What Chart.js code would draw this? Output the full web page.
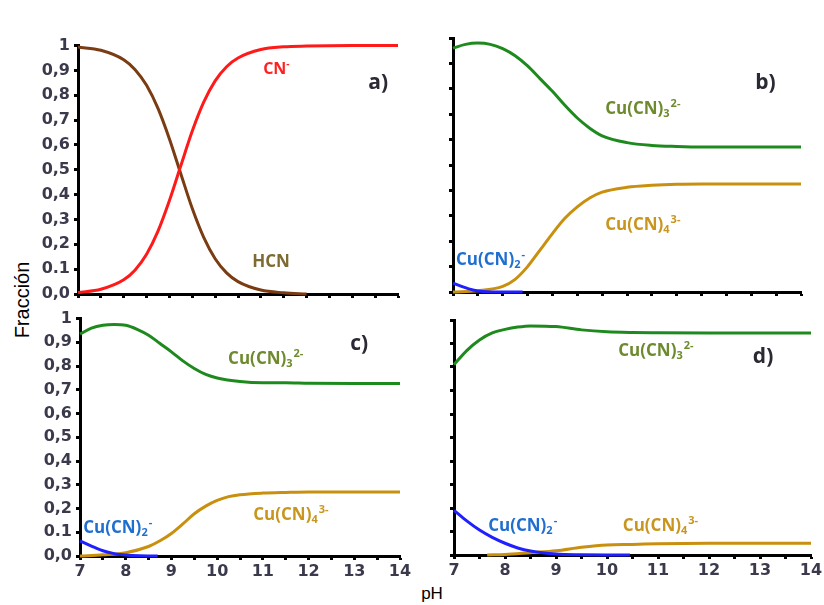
<!DOCTYPE html>
<html>
<head>
<meta charset="utf-8">
<script src="https://cdn.jsdelivr.net/npm/chart.js@4.4.0/dist/chart.umd.min.js"></script>
<style>
  body { margin: 0; background: #fff; width: 824px; height: 605px; position: relative; overflow: hidden; font-family: "Liberation Sans", Arial, sans-serif; }
  .panel { position: absolute; }
  #ylab { position: absolute; left: 22px; top: 300px; transform: translate(-50%, -50%) rotate(-90deg); font-size: 20px; color: #000; white-space: nowrap; }
  #xlab { position: absolute; left: 432px; top: 594px; transform: translate(-50%, -50%); font-size: 17px; color: #000; }
</style>
</head>
<body>
<div id="ylab">Fracción</div>
<div id="xlab">pH</div>
<canvas id="ga" class="panel"></canvas>
<canvas id="gb" class="panel"></canvas>
<canvas id="gc" class="panel"></canvas>
<canvas id="gd" class="panel"></canvas>
<script>
// ---- datos ----
const yTickLabels = ['0,0', '0.1', '0,2', '0,3', '0,4', '0,5', '0,6', '0,7', '0,8', '0,9', '1'];
const xTickLabels = ['7', '8', '9', '10', '11', '12', '13', '14'];

// a) HCN / CN-
const phA_CN = [7, 7.5, 8, 8.25, 8.5, 8.75, 9, 9.25, 9.5, 9.75, 10, 10.25, 10.5, 11, 11.5, 12, 13, 14];
const fracA_CN = [0.006, 0.019, 0.057, 0.097, 0.16, 0.253, 0.376, 0.517, 0.656, 0.772, 0.858, 0.915, 0.95, 0.984, 0.995, 0.998, 1.0, 1.0];
const phA_HCN = [7, 7.5, 8, 8.25, 8.5, 8.75, 9, 9.25, 9.5, 9.75, 10, 10.25, 10.5, 11, 11.5, 12];
const fracA_HCN = [0.994, 0.981, 0.943, 0.903, 0.84, 0.747, 0.624, 0.483, 0.344, 0.228, 0.142, 0.085, 0.05, 0.016, 0.005, 0.0];

// b)
const phB_3 = [7, 7.25, 7.5, 7.75, 8, 8.25, 8.5, 8.75, 9, 9.25, 9.5, 9.75, 10, 10.5, 11, 11.5, 12, 14];
const fracB_3 = [0.96, 0.975, 0.98, 0.975, 0.958, 0.93, 0.89, 0.84, 0.79, 0.735, 0.685, 0.645, 0.615, 0.588, 0.577, 0.573, 0.571, 0.571];
const phB_4 = [7, 7.5, 8, 8.25, 8.5, 8.75, 9, 9.25, 9.5, 9.75, 10, 10.5, 11, 11.5, 12, 14];
const fracB_4 = [0.0, 0.005, 0.022, 0.05, 0.1, 0.165, 0.23, 0.29, 0.335, 0.37, 0.393, 0.412, 0.42, 0.424, 0.425, 0.425];
const phB_2 = [7, 7.2, 7.4, 7.6, 8, 8.4];
const fracB_2 = [0.035, 0.02, 0.008, 0.002, 0.0, 0.0];

// c)
const phC_3 = [7, 7.25, 7.5, 7.75, 8, 8.25, 8.5, 8.75, 9, 9.25, 9.5, 9.75, 10, 10.5, 11, 11.5, 12, 13, 14];
const fracC_3 = [0.935, 0.96, 0.972, 0.975, 0.972, 0.955, 0.93, 0.895, 0.86, 0.822, 0.79, 0.765, 0.75, 0.735, 0.73, 0.73, 0.728, 0.727, 0.727];
const phC_4 = [7, 7.5, 8, 8.5, 8.75, 9, 9.25, 9.5, 9.75, 10, 10.25, 10.5, 11, 11.5, 12, 13, 14];
const fracC_4 = [0.0, 0.005, 0.014, 0.04, 0.064, 0.095, 0.135, 0.178, 0.21, 0.234, 0.25, 0.258, 0.265, 0.268, 0.27, 0.27, 0.27];
const phC_2 = [7, 7.25, 7.5, 7.75, 8, 8.3, 8.7];
const fracC_2 = [0.064, 0.042, 0.022, 0.01, 0.004, 0.001, 0.0];

// d)
const phD_3 = [7, 7.25, 7.5, 7.75, 8, 8.25, 8.5, 9, 9.5, 10, 10.5, 11, 12, 13, 14];
const fracD_3 = [0.81, 0.87, 0.915, 0.945, 0.96, 0.97, 0.975, 0.972, 0.958, 0.95, 0.947, 0.946, 0.945, 0.945, 0.945];
const phD_2 = [7, 7.25, 7.5, 7.75, 8, 8.25, 8.5, 9, 9.5, 10, 10.45];
const fracD_2 = [0.19, 0.145, 0.106, 0.075, 0.05, 0.03, 0.017, 0.004, 0.001, 0.0, 0.0];
const phD_4 = [7.65, 8, 8.5, 9, 9.5, 10, 10.5, 11, 12, 13, 14];
const fracD_4 = [0.0, 0.002, 0.01, 0.018, 0.033, 0.043, 0.045, 0.048, 0.05, 0.05, 0.05];

// colores
const cRojo = '#ff1a1a', cMarron = '#7a3c12', cVerde = '#1e8a1e', cOro = '#c8900e', cAzul = '#1f1fff';
const labelFont = '"Open Sans", "DejaVu Sans", sans-serif';

// rotulos de cada grafico (posicion en pH / fraccion)
const rotulos = {
  ga: [
    { ph: 11.05, f: 0.904, color: '#ff2020', size: 16, parts: [['CN'], ['-', 'sup']] },
    { ph: 10.81, f: 0.128, color: '#7d6b33', size: 17, parts: [['HCN']] },
    { ph: 13.35, f: 0.848, color: '#2a2a35', size: 21, parts: [['a)']] }
  ],
  gb: [
    { ph: 10.06, f: 0.72, color: '#6e8a2e', size: 17, parts: [['Cu(CN)'], ['3', 'sub'], ['2-', 'sup']] },
    { ph: 10.06, f: 0.264, color: '#c8961e', size: 17, parts: [['Cu(CN)'], ['4', 'sub'], ['3-', 'sup']] },
    { ph: 13.08, f: 0.823, color: '#2a2a35', size: 21, parts: [['b)']] },
    { ph: 7.06, f: 0.126, color: '#1f6fd0', size: 17, parts: [['Cu(CN)'], ['2', 'sub'], ['-', 'sup']] }
  ],
  gc: [
    { ph: 10.24, f: 0.828, color: '#6e8a2e', size: 17, parts: [['Cu(CN)'], ['3', 'sub'], ['2-', 'sup']] },
    { ph: 12.91, f: 0.895, color: '#2a2a35', size: 21, parts: [['c)']] },
    { ph: 10.79, f: 0.172, color: '#c8961e', size: 17, parts: [['Cu(CN)'], ['4', 'sub'], ['3-', 'sup']] },
    { ph: 7.07, f: 0.117, color: '#1f6fd0', size: 17, parts: [['Cu(CN)'], ['2', 'sub'], ['-', 'sup']] }
  ],
  gd: [
    { ph: 10.22, f: 0.868, color: '#6e8a2e', size: 17, parts: [['Cu(CN)'], ['3', 'sub'], ['2-', 'sup']] },
    { ph: 12.86, f: 0.843, color: '#2a2a35', size: 21, parts: [['d)']] },
    { ph: 7.67, f: 0.123, color: '#1f6fd0', size: 17, parts: [['Cu(CN)'], ['2', 'sub'], ['-', 'sup']] },
    { ph: 10.31, f: 0.123, color: '#c8961e', size: 17, parts: [['Cu(CN)'], ['4', 'sub'], ['3-', 'sup']] }
  ]
};

const rotuloPlugin = {
  id: 'rotulos',
  afterDatasetsDraw(chart) {
    const ctx = chart.ctx;
    const sx = chart.scales.x, sy = chart.scales.y;
    (rotulos[chart.canvas.id] || []).forEach(r => {
      let x = sx.getPixelForValue(r.ph);
      const y = sy.getPixelForValue(r.f);
      ctx.save();
      ctx.fillStyle = r.color;
      ctx.textBaseline = 'middle';
      ctx.textAlign = 'left';
      r.parts.forEach(p => {
        const small = p[1] ? Math.round(r.size * 0.62) : r.size;
        ctx.font = 'bold ' + small + 'px ' + labelFont;
        let dy = 0;
        if (p[1] === 'sub') dy = r.size * 0.28;
        if (p[1] === 'sup') dy = -r.size * 0.32;
        ctx.fillText(p[0], x, y + dy);
        x += ctx.measureText(p[0]).width + (p[1] === 'sub' ? 1 : 0);
      });
      ctx.restore();
    });
  }
};

function serie(ph, frac, color) {
  return {
    data: ph.map((v, i) => ({ x: v, y: frac[i] })),
    borderColor: color,
    borderWidth: 3,
    pointRadius: 0,
    cubicInterpolationMode: 'monotone',
    clip: 6,
    fill: false
  };
}

// left/top/width/height of the plot area in page pixels
function panel(id, area, datasets, showY, showX) {
  const padL = 62, padT = 12, padR = 16, padB = 36;
  const cv = document.getElementById(id);
  cv.width = area.w + padL + padR;
  cv.height = area.h + padT + padB;
  cv.style.left = (area.l - padL) + 'px';
  cv.style.top = (area.t - padT) + 'px';
  return new Chart(cv.getContext('2d'), {
    type: 'line',
    data: { datasets: datasets },
    plugins: [rotuloPlugin],
    options: {
      responsive: false,
      animation: false,
      layout: { padding: { top: padT, right: padR, left: 0, bottom: 0 } },
      plugins: { legend: { display: false }, tooltip: { enabled: false } },
      scales: {
        x: {
          type: 'linear', min: 7, max: 14,
          afterFit: s => { s.height = padB; },
          border: { color: '#000', width: 3 },
          grid: { drawOnChartArea: false, drawTicks: true, tickLength: 4, tickColor: '#000', tickWidth: 3 },
          ticks: {
            display: showX, stepSize: 0.5, autoSkip: false, maxRotation: 0, padding: 2,
            color: '#3a3a4c', font: { family: '"DejaVu Sans", sans-serif', size: 16, weight: 'bold' },
            callback: v => Number.isInteger(v) ? xTickLabels[v - 7] : ''
          }
        },
        y: {
          min: 0, max: 1,
          afterFit: s => { s.width = padL; },
          border: { color: '#000', width: 3 },
          grid: { drawOnChartArea: false, drawTicks: true, tickLength: 4, tickColor: '#000', tickWidth: 3 },
          ticks: {
            display: showY, stepSize: 0.1, autoSkip: false, padding: 4,
            color: '#3a3a4c', font: { family: '"DejaVu Sans", sans-serif', size: 16, weight: 'bold' },
            callback: v => yTickLabels[Math.round(v * 10)]
          }
        }
      }
    }
  });
}

panel('ga', { l: 78, t: 44, w: 320, h: 250 }, [
  serie(phA_CN, fracA_CN, cRojo),
  serie(phA_HCN, fracA_HCN, cMarron)
], true, false);

panel('gb', { l: 453, t: 38, w: 348, h: 254 }, [
  serie(phB_3, fracB_3, cVerde),
  serie(phB_2, fracB_2, cAzul),
  serie(phB_4, fracB_4, cOro)
], false, false);

panel('gc', { l: 80, t: 317, w: 320, h: 239 }, [
  serie(phC_3, fracC_3, cVerde),
  serie(phC_2, fracC_2, cAzul),
  serie(phC_4, fracC_4, cOro)
], true, true);

panel('gd', { l: 454, t: 320, w: 357, h: 235 }, [
  serie(phD_3, fracD_3, cVerde),
  serie(phD_2, fracD_2, cAzul),
  serie(phD_4, fracD_4, cOro)
], false, true);
</script>
</body>
</html>
